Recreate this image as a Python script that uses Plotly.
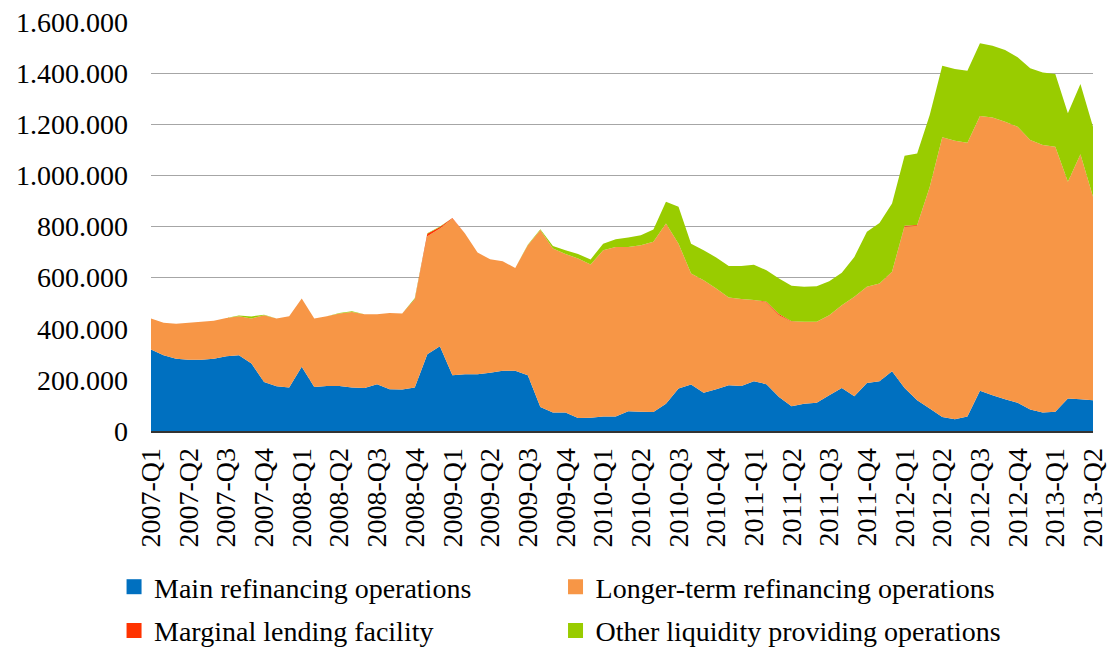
import plotly.graph_objects as go

quarters = ["2007-Q1", "2007-Q2", "2007-Q3", "2007-Q4",
            "2008-Q1", "2008-Q2", "2008-Q3", "2008-Q4",
            "2009-Q1", "2009-Q2", "2009-Q3", "2009-Q4",
            "2010-Q1", "2010-Q2", "2010-Q3", "2010-Q4",
            "2011-Q1", "2011-Q2", "2011-Q3", "2011-Q4",
            "2012-Q1", "2012-Q2", "2012-Q3", "2012-Q4",
            "2013-Q1", "2013-Q2"]

# monthly observations, Jan 2007 .. Apr 2013
months = [f"{2007 + m // 12}-{m % 12 + 1:02d}" for m in range(76)]

main_refi = [319000, 296000, 283000, 279000, 279000, 283000, 292000, 296000, 264000, 192000,
             175000, 170000, 251000, 172000, 176000, 176000, 170000, 168000, 183000, 163000,
             162000, 170000, 300000, 332000, 218000, 222000, 222000, 228000, 236000, 236000,
             218000, 94000, 72000, 72000, 51000, 52000, 57000, 57000, 77000, 75000,
             74000, 107000, 166000, 182000, 150000, 163000, 179000, 176000, 195000, 183000,
             133000, 97000, 107000, 111000, 140000, 168000, 136000, 188000, 195000, 234000,
             168000, 120000, 88000, 55000, 46000, 57000, 157000, 140000, 124000, 111000,
             84000, 72000, 75000, 127000, 124000, 120000]

longer_term = [121000, 127000, 137000, 144000, 148000, 148000, 150000, 153000, 176000, 261000,
               265000, 279000, 267000, 268000, 273000, 284000, 296000, 289000, 274000, 299000,
               298000, 342000, 462000, 460000, 613000, 551000, 476000, 444000, 428000, 402000,
               509000, 692000, 642000, 620000, 624000, 599000, 650000, 663000, 643000, 652000,
               666000, 705000, 567000, 434000, 440000, 394000, 343000, 340000, 317000, 320000,
               320000, 330000, 320000, 316000, 313000, 324000, 389000, 376000, 382000, 389000,
               631000, 683000, 867000, 1094000, 1089000, 1071000, 1075000, 1086000, 1086000, 1079000,
               1054000, 1047000, 1037000, 848000, 959000, 796000]

marginal = [0, 0, 0, 0, 0, 0, 0, 0, 0, 0,
            0, 0, 0, 0, 0, 0, 0, 0, 0, 0,
            0, 3000, 10000, 6000, 2000, 0, 0, 0, 0, 0,
            0, 0, 0, 0, 0, 0, 0, 0, 0, 0,
            0, 0, 0, 0, 0, 0, 0, 0, 0, 3000,
            5000, 2000, 0, 0, 0, 0, 0, 0, 0, 0,
            4000, 3000, 0, 0, 0, 0, 0, 0, 0, 0,
            0, 0, 0, 0, 0, 0]

other = [0, 0, 0, 0, 0, 0, 0, 3000, 8000, 2000,
         0, 0, 0, 0, 0, 2000, 2000, 0, 0, 0,
         0, 4000, 2000, 2000, 0, 0, 0, 0, 0, 0,
         2000, 3000, 10000, 15000, 17000, 20000, 26000, 30000, 37000, 39000,
         48000, 85000, 144000, 117000, 117000, 122000, 123000, 129000, 138000, 123000,
         139000, 139000, 137000, 139000, 133000, 127000, 156000, 215000, 237000, 267000,
         274000, 280000, 281000, 280000, 281000, 281000, 285000, 281000, 280000, 272000,
         281000, 283000, 285000, 268000, 274000, 274000]

series_names = ["Main refinancing operations", "Longer-term refinancing operations",
                "Marginal lending facility", "Other liquidity providing operations"]
series_values = [main_refi, longer_term, marginal, other]
colors = ["#0070C0", "#F79646", "#FF3300", "#99CC00"]

FONT = "Liberation Serif"
FS = 28

fig = go.Figure()
for name, vals, col in zip(series_names, series_values, colors):
    fig.add_trace(go.Scatter(
        x=months, y=vals, name=name, stackgroup="one", mode="none",
        fillcolor=col, showlegend=False, hoverinfo="x+y+name"))

# legend entries (square swatches), one legend box per entry, positioned in the container
legend_pos = [(0.0958, 0.0953), (0.4946, 0.0953), (0.0958, 0.0270), (0.4946, 0.0270)]
legend_keys = ["legend", "legend2", "legend3", "legend4"]
for name, col, key in zip(series_names, colors, legend_keys):
    fig.add_trace(go.Scatter(
        x=[None], y=[None], mode="markers", name=name, legend=key,
        marker=dict(symbol="square", size=15, color=col), showlegend=True))

layout_legends = {}
for key, (lx, ly) in zip(legend_keys, legend_pos):
    layout_legends[key] = dict(
        x=lx, y=ly, xref="container", yref="container",
        xanchor="left", yanchor="middle", orientation="h",
        font=dict(family=FONT, size=FS, color="#000000"),
        bgcolor="rgba(0,0,0,0)", borderwidth=0, itemclick=False)

# the page body adds an 8px offset, so the figure is 8px smaller than the window
fig.update_layout(
    width=1107, height=640,
    margin=dict(l=143, r=22, t=14, b=217, autoexpand=False),
    paper_bgcolor="white", plot_bgcolor="white",
    separators=",.",
    font=dict(family=FONT, size=FS, color="#000000"),
    xaxis=dict(
        type="category", range=[0, 75], automargin=False,
        tickmode="array", tickvals=months[::3], ticktext=quarters,
        tickangle=-90, showgrid=False, ticks="",
        showline=True, linecolor="#333333", linewidth=1.5,
        tickfont=dict(family=FONT, size=FS, color="#000000"),
        ticklabelstandoff=4, ticklabeloverflow="allow"),
    yaxis=dict(
        range=[0, 1600001], tickmode="array", automargin=False,
        tickvals=[0, 200000, 400000, 600000, 800000, 1000000, 1200000, 1400000, 1600000],
        tickformat=",d", showgrid=True, gridcolor="#A6A6A6", gridwidth=1.2,
        zeroline=False, showline=False, ticks="",
        tickfont=dict(family=FONT, size=FS, color="#000000"),
        ticklabelstandoff=22, ticklabeloverflow="allow"),
    **layout_legends,
)

fig.write_html("out.html")
